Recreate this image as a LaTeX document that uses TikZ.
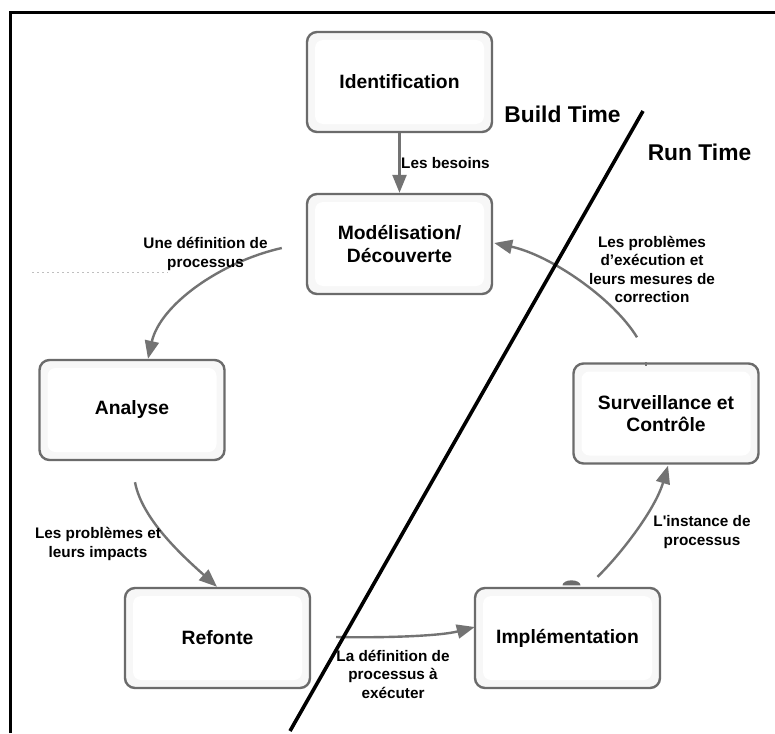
\documentclass[tikz,border=0pt]{standalone}
\usepackage{fontspec}
\newfontfamily\lf{Liberation Sans}
\usetikzlibrary{arrows.meta}

\definecolor{boxgray}{gray}{0.42}
\definecolor{flowgray}{gray}{0.45}

\tikzset{
  stagebox/.style={draw=boxgray, line width=2.4pt, rounded corners=10pt, fill=white,
    minimum width=185pt, minimum height=100pt, inner sep=0pt, align=center,
    font={\lf\bfseries\fontsize{19.3}{22.5}\selectfont},
    path picture={
      \fill[black!3] (path picture bounding box.south west) rectangle (path picture bounding box.north east);
      \fill[white, rounded corners=8pt]
        ([shift={(8pt,8pt)}]path picture bounding box.south west) rectangle
        ([shift={(-8pt,-8pt)}]path picture bounding box.north east);
    }},
  flow/.style={draw=flowgray, line width=2.4pt,
    -{Triangle[length=18pt,width=14pt]}, fill=none},
  flowlabel/.style={align=center, inner sep=0pt,
    font={\lf\bfseries\fontsize{15.3}{18.5}\selectfont}},
  phase/.style={inner sep=0pt, font={\lf\bfseries\fontsize{22.8}{26}\selectfont}},
}

\begin{document}
\begin{tikzpicture}[x=1pt, y=-1pt]
  \useasboundingbox (0,0) rectangle (775,733);
  \fill[white] (0,0) rectangle (775,733);

  % outer frame (left and top edges)
  \draw[line width=3pt] (10.7,733) -- (10.7,12.2) -- (775,12.2);

  % lifecycle stages
  \node[stagebox] (ident) at (399.5,82)  {Identification};
  \node[stagebox] (model) at (399.5,244) {Modélisation/\\Découverte};
  \node[stagebox] (anal)  at (132,410)   {Analyse};
  \node[stagebox] (refo)  at (217.5,638) {Refonte};
  \node[stagebox] (impl)  at (567.5,638) {Implémentation};
  \node[stagebox] (surv)  at (666,413.5) {Surveillance et\\Contrôle};

  % visible ends of the curved connectors
  \coordinate (model-out) at ([xshift=-24pt,yshift=-4pt]model.west);
  \coordinate (anal-in)   at ([xshift=16pt]anal.north);
  \coordinate (anal-out)  at ([xshift=3pt,yshift=-21pt]anal.south);
  \coordinate (refo-in)   at ([xshift=-0.5pt]refo.north);
  \coordinate (refo-out)  at ([xshift=25pt,yshift=1pt]refo.east);
  \coordinate (impl-in)   at ([xshift=1pt,yshift=11pt]impl.west);
  \coordinate (impl-out)  at ([xshift=30pt,yshift=10pt]impl.north);
  \coordinate (surv-in)   at ([xshift=2pt,yshift=-1pt]surv.south);
  \coordinate (surv-out)  at ([xshift=-29pt,yshift=25pt]surv.north);
  \coordinate (model-in)  at ([xshift=1pt,yshift=1pt]model.east);

  % connectors
  \draw[flow] (ident.south) -- (model.north);
  \draw[flow] (model-out) .. controls (220,262) and (160,305) .. (anal-in);
  \draw[flow] (anal-out) .. controls (142,520) and (185,558) .. (refo-in);
  \draw[flow] (refo-out) .. controls (385,638) and (440,636) .. (impl-in);
  \draw[flow] (impl-out) .. controls (620,555) and (655,510) .. (surv-in);
  \draw[flow] (surv-out) .. controls (613,298) and (550,255) .. (model-in);

  % small leftovers of the masked connector ends
  \draw[flowgray, line width=2pt] ([xshift=-20pt]surv.north) -- ++(0,4);
  \fill[boxgray] ([xshift=4pt,yshift=1.5pt]impl.north) ++(-9,0) arc[start angle=180, end angle=0, x radius=9, y radius=-5] -- cycle;
  \draw[black!25, line width=1pt, dash pattern=on 2pt off 3pt] (32,272) -- (168,272);

  % connector labels
  \node[flowlabel, anchor=west] (lbl-needs) at (401,163) {Les besoins};
  \node[flowlabel] (lbl-def)   at (205.5,254) {Une définition de\\processus};
  \node[flowlabel] (lbl-issue) at (98,544)    {Les problèmes et\\leurs impacts};
  \node[flowlabel] (lbl-exec)  at (393,674)   {La définition de\\processus à\\exécuter};
  \node[flowlabel] (lbl-inst)  at (702,532)   {L'instance de\\processus};
  \node[flowlabel] (lbl-fix)   at (652,269.5) {Les problèmes\\d’exécution et\\leurs mesures de\\correction};

  % build time / run time separator
  \node[phase] (build) at (562.5,114) {Build Time};
  \node[phase] (run)   at (699.5,152) {Run Time};
  \coordinate (sep-top) at (643,111);
  \coordinate (sep-bot) at (290,731);
  \draw[line width=3.6pt] (sep-top) -- (sep-bot);
\end{tikzpicture}
\end{document}
